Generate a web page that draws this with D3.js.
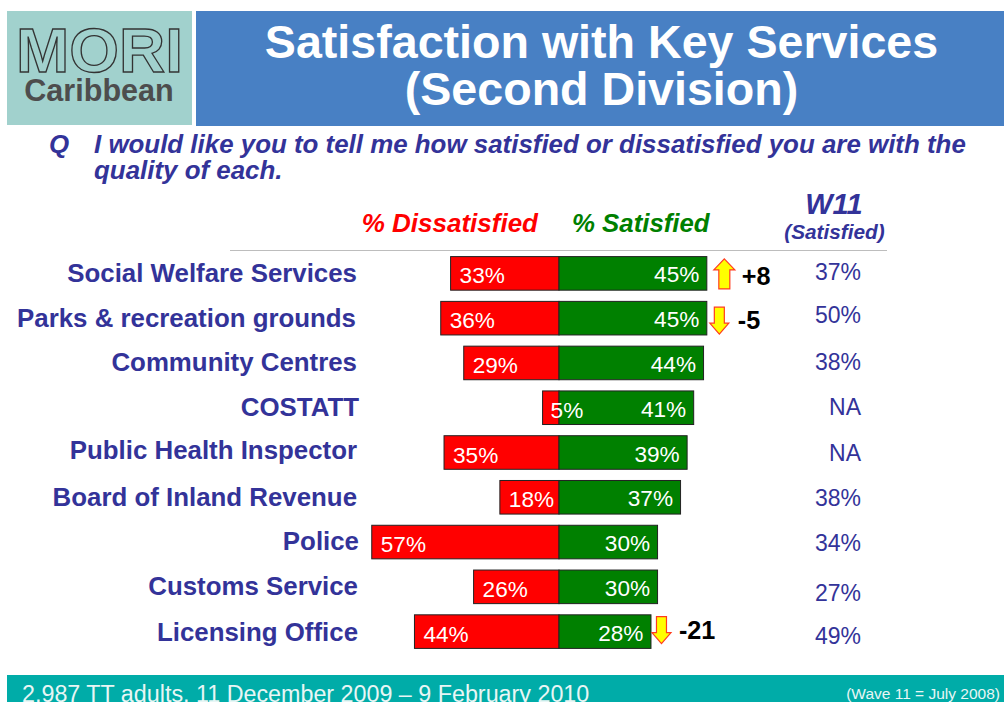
<!DOCTYPE html>
<html><head><meta charset="utf-8">
<script src="https://cdnjs.cloudflare.com/ajax/libs/d3/7.8.5/d3.min.js"></script>
<style>html,body{margin:0;padding:0;background:#fff;overflow:hidden}svg{display:block}text{font-family:"Liberation Sans",Arial,sans-serif}</style>
</head><body><svg id="c" width="1004" height="702"></svg>
<script>
const categories=["Social Welfare Services","Parks & recreation grounds","Community Centres","COSTATT","Public Health Inspector","Board of Inland Revenue","Police","Customs Service","Licensing Office"];
const dissatisfied=[33,36,29,5,35,18,57,26,44];
const satisfied=[45,45,44,41,39,37,30,30,28];
const wave11=["37%","50%","38%","NA","NA","38%","34%","27%","49%"];
const changes=[8,-5,null,null,null,null,null,null,-21];
// hand-placement nudges seen in the slide (px)
const labelDy=[-1,-1,-1,-1,-3,-1,-2,-1,0];
const labelDx=[0,-1,0,2,0,0,2,1,1];
const waveDy=[-0.5,-2.5,-0.5,0,0.5,1,1.5,7,5];
const arrowDx=[17.5,12.5,0,0,0,0,0,0,10.5];
const changeDx=[35,31,0,0,0,0,0,0,28];
const changeDy=[3,2,0,0,0,0,0,0,-2];

const svg=d3.select("#c");
const NAVY="#333399";
const x=d3.scaleLinear().domain([0,100]).range([559,887.5]);
const xl=v=>x(0)-(x(v)-x(0));
const y=d3.scaleBand().domain(categories).range([251,654]).paddingInner(0.25).paddingOuter(0.125);

function t(s,px,py,size,fill,o={}){return svg.append("text").attr("x",px).attr("y",py).attr("font-size",size).attr("fill",fill)
 .attr("font-weight",o.w||"normal").attr("font-style",o.i?"italic":"normal").attr("text-anchor",o.a||"start").text(s);}

// header
svg.append("rect").attr("x",7).attr("y",11).attr("width",185).attr("height",114).attr("fill","#a1d1cd");
svg.append("rect").attr("x",196).attr("y",11).attr("width",808).attr("height",115).attr("fill","#4880c4");
t("MORI",99.5,72,62.5,"none",{a:"middle",w:"bold"}).attr("stroke","#333").attr("stroke-width",1.3).attr("textLength",167).attr("lengthAdjust","spacingAndGlyphs");
t("Caribbean",99,100.5,30.6,"#4d4d4d",{a:"middle",w:"bold"});
t("Satisfaction with Key Services",601.5,58,46.6,"#fff",{a:"middle",w:"bold"});
t("(Second Division)",601.5,105,46.6,"#fff",{a:"middle",w:"bold"});
// question
t("Q",49,153,25.9,NAVY,{w:"bold",i:true});
t("I would like you to tell me how satisfied or dissatisfied you are with the",94,153,25.9,NAVY,{w:"bold",i:true});
t("quality of each.",94,179,25.9,NAVY,{w:"bold",i:true});
// column heads
t("% Dissatisfied",538,232,26,"#ff0000",{a:"end",w:"bold",i:true});
t("% Satisfied",572,232,25.8,"#008000",{w:"bold",i:true});
t("W11",834,214,29,NAVY,{a:"middle",w:"bold",i:true});
t("(Satisfied)",834.5,239,20.8,NAVY,{a:"middle",w:"bold",i:true});
svg.append("line").attr("x1",230).attr("x2",887).attr("y1",250.5).attr("y2",250.5).attr("stroke","#bdbdbd").attr("stroke-width",1);

const rows=categories.map((c,i)=>({c,i,d:dissatisfied[i],s:satisfied[i],w:wave11[i],ch:changes[i]}));
const mid=d=>y(d.c)+y.bandwidth()/2;
// category labels
svg.selectAll(".cat").data(rows).join("text").attr("class","cat").attr("text-anchor","end")
 .attr("x",d=>357+labelDx[d.i]).attr("y",d=>mid(d)+9.5+labelDy[d.i]).attr("font-size",25.85).attr("font-weight","bold").attr("fill",NAVY).text(d=>d.c);
// bars
svg.selectAll(".dis").data(rows).join("rect").attr("class","dis").attr("x",d=>xl(d.d)).attr("y",d=>y(d.c)).attr("width",d=>x(0)-xl(d.d)).attr("height",y.bandwidth()).attr("fill","#ff0000").attr("stroke","#222").attr("stroke-width",1);
svg.selectAll(".sat").data(rows).join("rect").attr("class","sat").attr("x",x(0)).attr("y",d=>y(d.c)).attr("width",d=>x(d.s)-x(0)).attr("height",y.bandwidth()).attr("fill","#008000").attr("stroke","#222").attr("stroke-width",1);
// bar values
svg.selectAll(".dv").data(rows).join("text").attr("class","dv").attr("x",d=>xl(d.d)+(d.d<10?8:9)).attr("y",d=>mid(d)+10).attr("font-size",22.6).attr("fill","#fff").text(d=>d.d+"%");
svg.selectAll(".sv").data(rows).join("text").attr("class","sv").attr("text-anchor","end").attr("x",d=>x(d.s)-7.5).attr("y",d=>mid(d)+9).attr("font-size",22.6).attr("fill","#fff").text(d=>d.s+"%");
// W11 column
svg.selectAll(".wv").data(rows).join("text").attr("class","wv").attr("text-anchor","middle").attr("x",d=>d.w==="NA"?845:838).attr("y",d=>mid(d)+7.5+waveDy[d.i]).attr("font-size",23).attr("fill",NAVY).text(d=>d.w);
// change arrows and labels
const ch=rows.filter(d=>d.ch!==null);
const arrowPath=up=>{const a=up?10.5:9.5,s=up?5.5:5,l=up?15:13.5,p=[[0,-l],[a,-l+11],[s,-l+11],[s,l],[-s,l],[-s,-l+11],[-a,-l+11]];
 const q=up?p:p.map(([u,v])=>[u,-v]);return "M"+q.map(e=>e.join(",")).join("L")+"Z";};
svg.selectAll(".arrow").data(ch).join("path").attr("class","arrow").attr("transform",d=>`translate(${x(d.s)+arrowDx[d.i]},${mid(d)+(d.ch>0?0.5:(d.i===1?2.5:-1.5))})`)
 .attr("d",d=>arrowPath(d.ch>0)).attr("fill","#ffff00").attr("stroke","#ff3b1f").attr("stroke-width",1.2);
svg.selectAll(".chg").data(ch).join("text").attr("class","chg").attr("x",d=>x(d.s)+changeDx[d.i]).attr("y",d=>mid(d)+9+changeDy[d.i]).attr("font-size",25.2).attr("font-weight","bold").attr("fill","#000").text(d=>(d.ch>0?"+":"")+d.ch);
// footer
svg.append("rect").attr("x",7).attr("y",675).attr("width",997).attr("height",27).attr("fill","#00aca8");
t("2,987 TT adults, 11 December 2009 – 9 February 2010",22,702,23.3,"#e8f6f5");
t("(Wave 11 = July 2008)",1000,699,15.5,"#e8f6f5",{a:"end"});
</script></body></html>
